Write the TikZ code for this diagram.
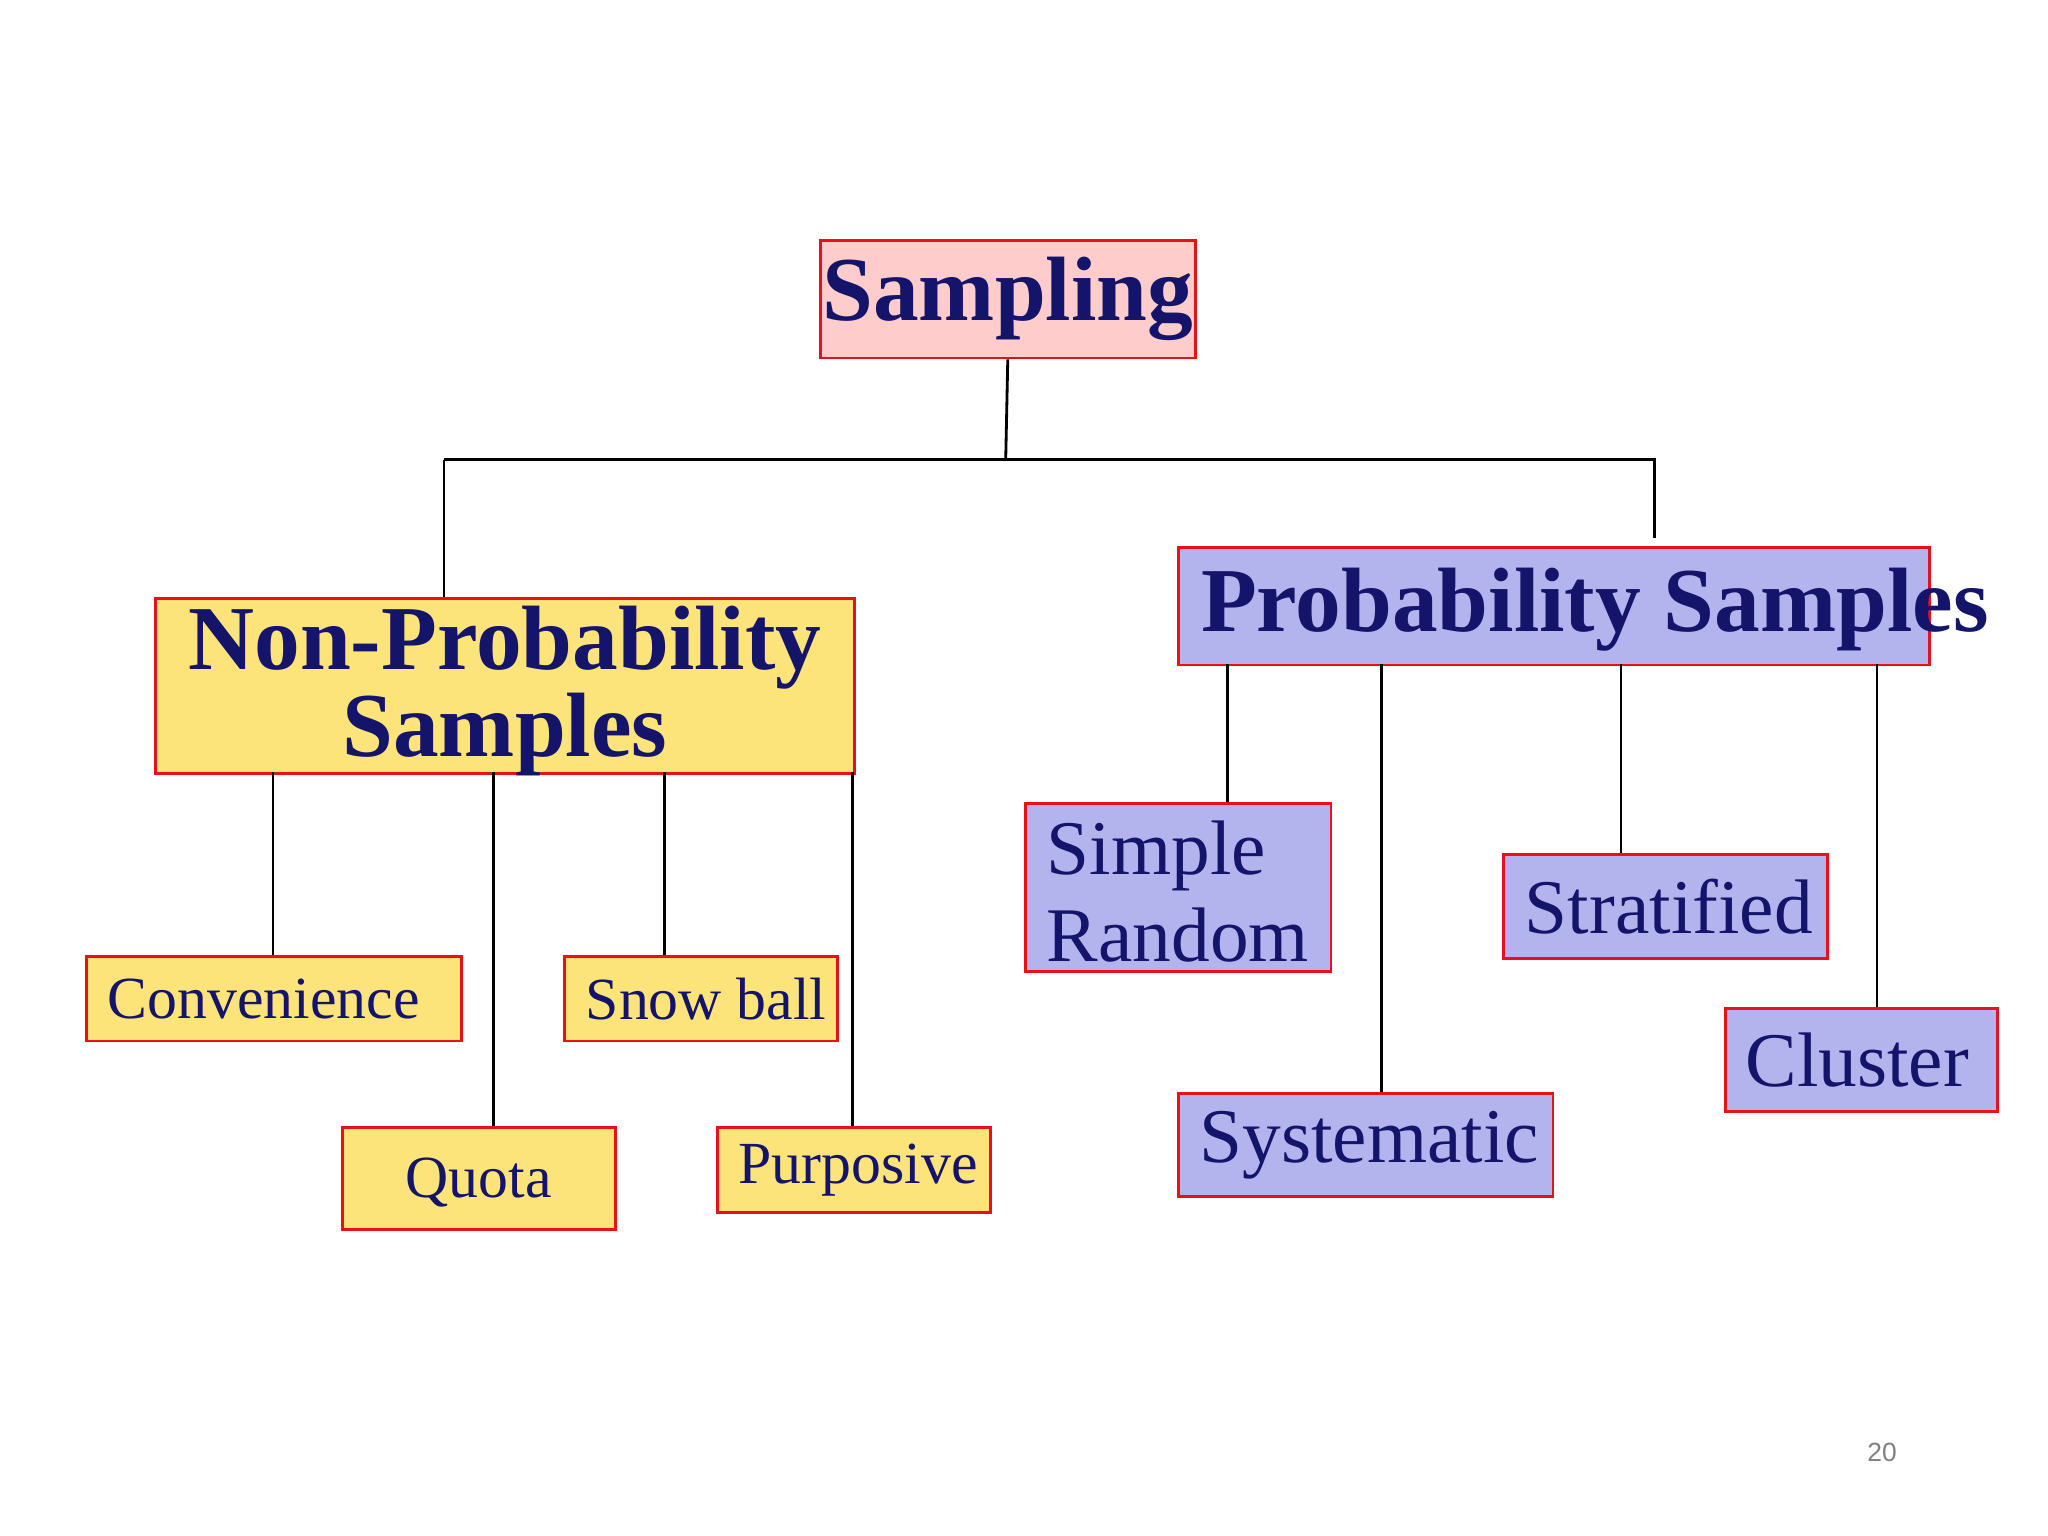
\documentclass[tikz,border=0pt]{standalone}
\usepackage{fontspec}
\setmainfont{Liberation Serif}
\newfontfamily\numfont{Liberation Sans}
\definecolor{navy}{HTML}{14146B}
\definecolor{pinkf}{HTML}{FFCCCC}
\definecolor{yelf}{HTML}{FCE37A}
\definecolor{lavf}{HTML}{B3B3EE}
\definecolor{bord}{HTML}{E8101A}
\def\u{0.013061cm}
\tikzset{
  box/.style={draw=bord, line width=0.8pt, inner sep=0pt, anchor=north west},
  lbl/.style={text=navy, inner sep=0pt, anchor=west},
  conn/.style={draw=black, line width=0.8pt},
}
\begin{document}
\begin{tikzpicture}[x=0.013061cm,y=-0.013061cm]
\useasboundingbox[fill=white] (0,0) rectangle (1568,1176);
% boxes
\node[box,fill=pinkf,minimum width=287*\u,minimum height=90*\u] (samp) at (627,183) {};
\node[text=navy,font=\fontsize{26}{30}\selectfont\bfseries] (sampt) at (samp.center) {Sampling};
\node[box,fill=yelf,minimum width=535*\u,minimum height=134*\u] (np) at (118,457) {};
\node[text=navy,align=center,font=\fontsize{26}{21.5}\selectfont\bfseries] (npt) at ([yshift=-4*\u]np.center) {Non-Probability\\Samples};
\node[box,fill=lavf,minimum width=575*\u,minimum height=90*\u] (pr) at (901,418) {};
\node[lbl,font=\fontsize{26}{30}\selectfont\bfseries] (prt) at ([xshift=18*\u,yshift=-3*\u]pr.west) {Probability Samples};
% non-prob children
\node[box,fill=yelf,minimum width=287*\u,minimum height=65*\u] (conv) at (65,731) {};
\node[lbl,font=\fontsize{17}{20}\selectfont] at ([xshift=17*\u]conv.west) {Convenience};
\node[box,fill=yelf,minimum width=209*\u,minimum height=65*\u] (snow) at (431,731) {};
\node[lbl,font=\fontsize{17}{20}\selectfont] at ([xshift=17*\u]snow.west) {Snow ball};
\node[box,fill=yelf,minimum width=209*\u,minimum height=78*\u] (quota) at (261,862) {};
\node[text=navy,inner sep=0pt,font=\fontsize{17}{20}\selectfont] at ([yshift=-3*\u]quota.center) {Quota};
\node[box,fill=yelf,minimum width=209*\u,minimum height=65*\u] (purp) at (548,862) {};
\node[lbl,font=\fontsize{17}{20}\selectfont] at ([xshift=17*\u]purp.west) {Purposive};
% prob children
\node[box,fill=lavf,minimum width=234*\u,minimum height=129*\u] (simp) at (784,614) {};
\node[lbl,align=left,font=\fontsize{22}{25}\selectfont] at ([xshift=17*\u,yshift=-3*\u]simp.west) {Simple\\Random};
\node[box,fill=lavf,minimum width=248*\u,minimum height=80*\u] (strat) at (1150,653) {};
\node[lbl,font=\fontsize{22}{25}\selectfont] at ([xshift=17*\u]strat.west) {Stratified};
\node[box,fill=lavf,minimum width=287*\u,minimum height=79*\u] (syst) at (901,836) {};
\node[lbl,font=\fontsize{22}{25}\selectfont] at ([xshift=17*\u]syst.west) {Systematic};
\node[box,fill=lavf,minimum width=208*\u,minimum height=79*\u] (clus) at (1320,771) {};
\node[lbl,font=\fontsize{22}{25}\selectfont] at ([xshift=16*\u]clus.west) {Cluster};
% connectors
\coordinate (jm) at (770,352);
\coordinate (jl) at (340,352);
\coordinate (jr) at (1267,352);
\coordinate (jre) at (1267,412);
\draw[conn] (samp.south) -- (jm);
\draw[conn] (jl) -- (jr) -- (jre);
\draw[conn] (jl) -- (jl |- np.north);
\draw[conn] (209,591) -- (209,731);
\draw[conn] (378,591) -- (378,862);
\draw[conn] (509,591) -- (509,731);
\draw[conn] (653,591) -- (653,862);
\draw[conn] (940,508) -- (940,614);
\draw[conn] (1058,508) -- (1058,836);
\draw[conn] (1241,508) -- (1241,653);
\draw[conn] (1437,508) -- (1437,771);
\node[text=gray,font=\numfont\fontsize{7.5}{9}\selectfont] (pg) at (1441,1112) {20};
\end{tikzpicture}
\end{document}
